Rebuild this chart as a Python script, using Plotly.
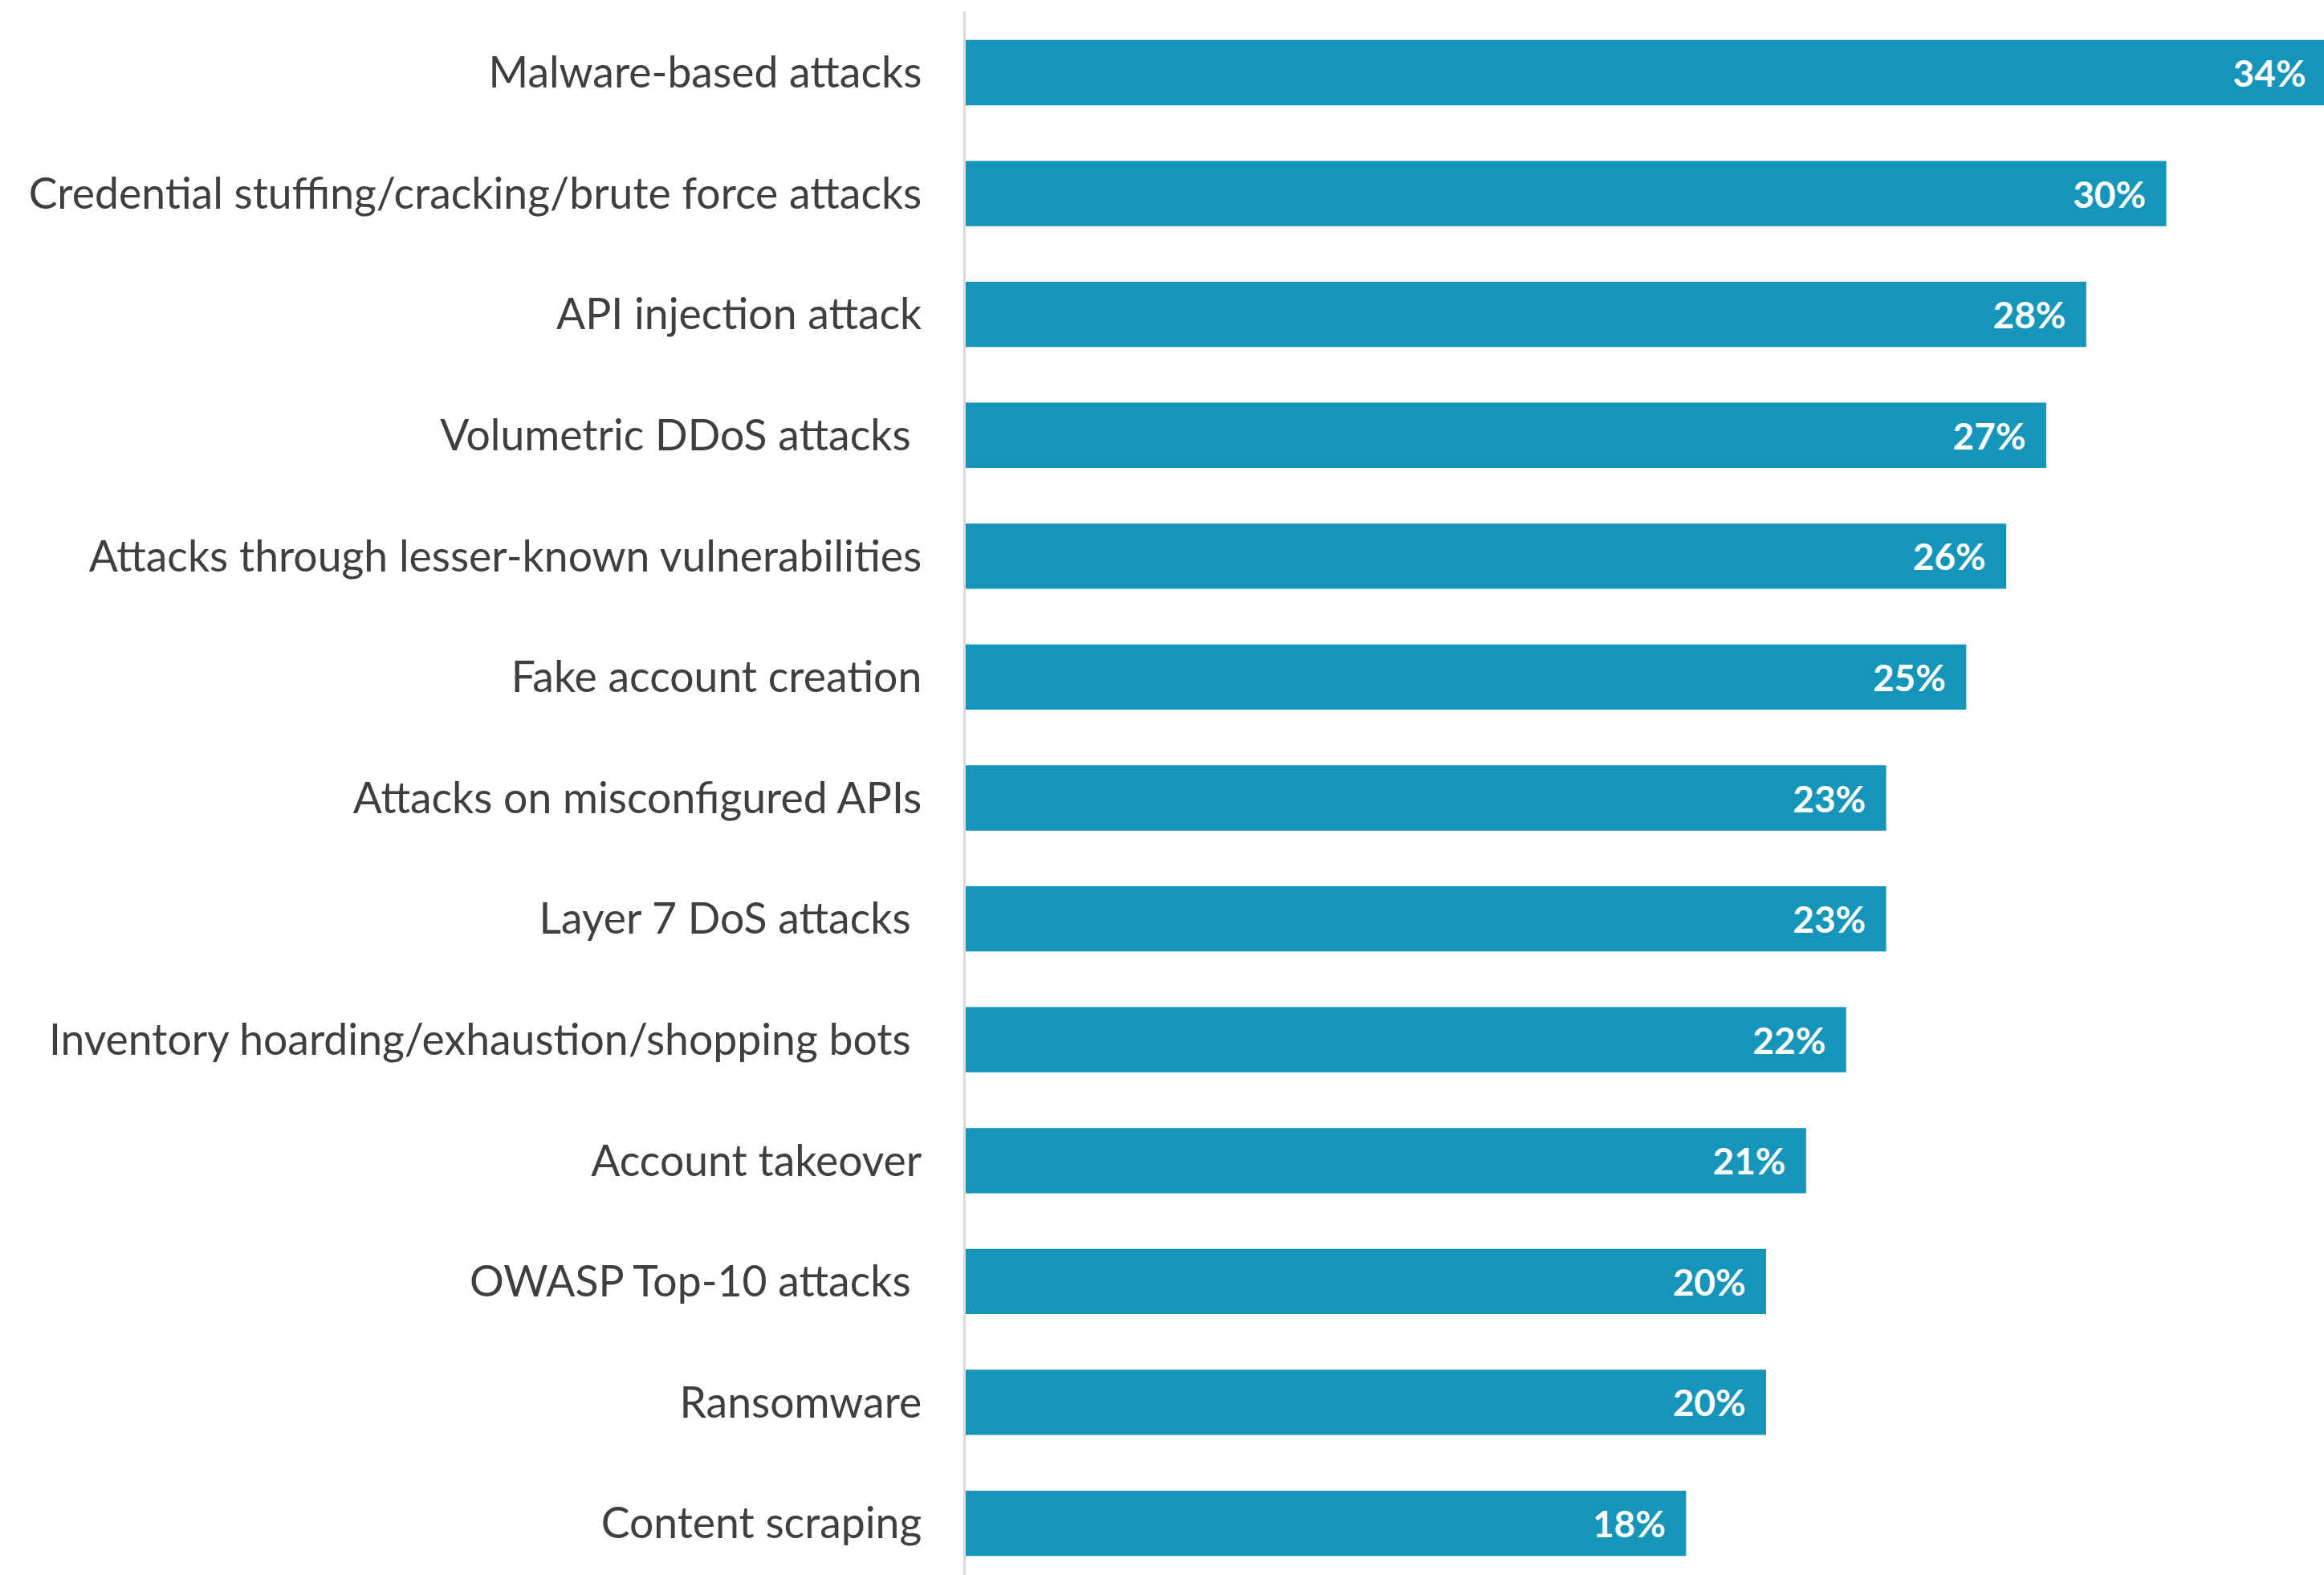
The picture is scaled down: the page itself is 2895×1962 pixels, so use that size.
import plotly.graph_objects as go

categories = [
    "Malware-based attacks",
    "Credential stuffing/cracking/brute force attacks",
    "API injection attack",
    "Volumetric DDoS attacks\u00a0",
    "Attacks through lesser-known vulnerabilities",
    "Fake account creation",
    "Attacks on misconfigured APIs",
    "Layer 7 DoS attacks\u00a0",
    "Inventory hoarding/exhaustion/shopping bots\u00a0",
    "Account takeover",
    "OWASP Top-10 attacks\u00a0",
    "Ransomware",
    "Content scraping",
]
values = [34, 30, 28, 27, 26, 25, 23, 23, 22, 21, 20, 20, 18]

BAR_COLOR = "#1695ba"
TEXT_COLOR = "#3f3f3f"
FONT = "Lato"

fig = go.Figure(
    go.Bar(
        x=values,
        y=categories,
        orientation="h",
        marker=dict(color=BAR_COLOR, line=dict(width=0)),
        texttemplate="%{x}%\u00a0\u00a0",
        textposition="inside",
        insidetextanchor="end",
        textfont=dict(family=FONT, size=46, color="white", weight="bold"),
        cliponaxis=True,
    )
)

fig.update_layout(
    width=2895,
    height=1962,
    margin=dict(l=1203, r=0, t=14, b=0, autoexpand=False),
    paper_bgcolor="white",
    plot_bgcolor="white",
    bargap=0.46,
    showlegend=False,
    xaxis=dict(
        range=[0, 33.94],
        visible=False,
        showgrid=False,
        zeroline=False,
    ),
    yaxis=dict(
        categoryorder="array",
        categoryarray=categories,
        range=[12.428, -0.508],
        showgrid=False,
        zeroline=False,
        showline=True,
        linecolor="#d9d9d9",
        linewidth=3,
        ticks="",
        ticklabelstandoff=41,
        tickfont=dict(family=FONT, size=53.5, color=TEXT_COLOR),
    ),
)

fig.write_html(
    "out.html",
    config={"displayModeBar": False},
    post_script="document.body.style.margin='0';document.body.style.overflow='hidden';",
)
